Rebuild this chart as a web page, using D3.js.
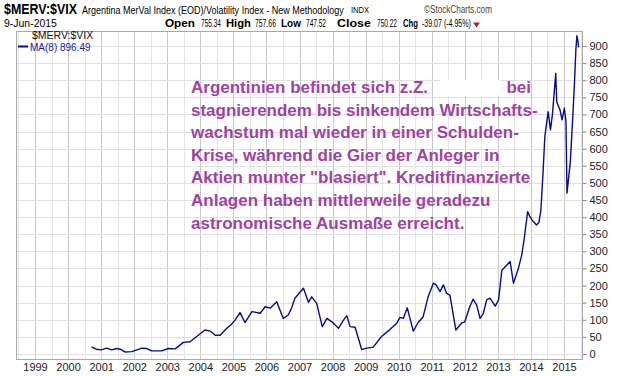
<!DOCTYPE html>
<html lang="de">
<head>
<meta charset="UTF-8" />
<title>$MERV:$VIX</title>
<script src="https://d3js.org/d3.v7.min.js"></script>
<style>
  html, body { margin: 0; padding: 0; background: #fff; overflow: hidden; }
  svg { display: block; }
  text { font-family: "Liberation Sans", Arial, sans-serif; }
</style>
</head>
<body>
<svg width="620" height="376"></svg>
<script>
// MA(8) of $MERV:$VIX (decimal year, value)
const maYears = [
  2000.71, 2000.85, 2001.0, 2001.17, 2001.32, 2001.47, 2001.6, 2001.72, 2001.93, 2002.1,
  2002.23, 2002.38, 2002.53, 2002.83, 2003.03, 2003.24, 2003.49, 2003.69, 2003.94, 2004.14,
  2004.3, 2004.45, 2004.6, 2004.8, 2004.92, 2005.05, 2005.2, 2005.35, 2005.56, 2005.81,
  2005.96, 2006.11, 2006.31, 2006.51, 2006.66, 2006.76, 2006.86, 2007.12, 2007.27, 2007.37,
  2007.52, 2007.69, 2007.83, 2007.98, 2008.18, 2008.33, 2008.43, 2008.53, 2008.68, 2008.88,
  2009.03, 2009.23, 2009.48, 2009.74, 2009.94, 2010.04, 2010.14, 2010.26, 2010.44, 2010.59,
  2010.74, 2010.89, 2011.05, 2011.13, 2011.25, 2011.35, 2011.45, 2011.55, 2011.73, 2011.9,
  2012.0, 2012.15, 2012.25, 2012.36, 2012.46, 2012.56, 2012.66, 2012.76, 2012.92, 2013.02,
  2013.12, 2013.27, 2013.37, 2013.47, 2013.62, 2013.72, 2013.79, 2013.9, 2013.97, 2014.07,
  2014.17, 2014.24, 2014.3, 2014.36, 2014.42, 2014.52, 2014.59, 2014.65, 2014.75, 2014.78,
  2014.88, 2014.94, 2015.01, 2015.06, 2015.09, 2015.19, 2015.27, 2015.32, 2015.36, 2015.39,
  2015.42, 2015.44
];
const maValues = [
  21, 14, 12, 17, 12, 16, 13, 6, 7, 13,
  17, 16, 9, 9, 16, 15, 34, 36, 55, 70,
  67, 55, 55, 75, 85, 99, 121, 92, 124, 119,
  138, 134, 153, 104, 114, 134, 163, 192, 151, 167,
  148, 80, 104, 94, 75, 99, 112, 80, 78, 13,
  17, 20, 51, 72, 90, 107, 104, 135, 67, 92,
  109, 167, 207, 202, 182, 202, 177, 172, 70, 90,
  94, 138, 160, 143, 104, 119, 158, 163, 140, 158,
  245, 260, 270, 207, 250, 289, 333, 416, 401, 387,
  377, 384, 420, 520, 635, 708, 655, 700, 820, 737,
  713, 684, 718, 680, 470, 560, 700, 800, 890, 930,
  915, 896
];
const yearTicks = d3.range(1999, 2016);
const yTicks = d3.range(0, 901, 50);
const noteLines = [
  "Argentinien befindet sich z.Z.",
  "stagnierendem bis sinkendem Wirtschafts-",
  "wachstum mal wieder in einer Schulden-",
  "Krise, während die Gier der Anleger in",
  "Aktien munter \"blasiert\". Kreditfinanzierte",
  "Anlagen haben mittlerweile geradezu",
  "astronomische Ausmaße erreicht."
];
// header quote: text, bold?
const quoteParts = [
  ["Open", true], ["755.34", false], ["High", true], ["757.66", false],
  ["Low", true], ["747.52", false], ["Close", true], ["750.22", false],
  ["Chg", true], ["-39.07 (-4.95%)", false]
];
const quoteX = [165, 201, 226, 255, 281, 306, 337, 377, 403, 422];
const quoteW = [30, 20, 25, 21, 20, 20, 34, 20, 15, 49];

const toDate = t => {
  const y = Math.floor(t);
  const a = new Date(y, 0, 1), b = new Date(y + 1, 0, 1);
  return new Date(+a + (t - y) * (b - a));
};
const data = maYears.map((t, i) => ({ date: toDate(t), value: maValues[i] }));

const svg = d3.select("svg");
const plot = { left: 16.5, right: 582.5, top: 31.5, bottom: 359.5 };

// squeeze a text horizontally into a given width (the StockCharts font is narrow)
function fitText(parent, str, x0, y0, w, size, bold, fill) {
  const g = parent.append("g");
  const t = g.append("text").attr("font-size", size)
    .attr("font-weight", bold ? "bold" : "normal")
    .attr("fill", fill || "#000").text(str);
  const len = t.node().getComputedTextLength();
  g.attr("transform", `translate(${x0},${y0}) scale(${w / len},1)`);
  return t;
}

const x = d3.scaleTime()
  .domain([new Date(1999, 0, 1), new Date(2015, 0, 1)])
  .range([35, 564]);
const y = d3.scaleLinear().domain([0, 900]).range([354, 46]);

// grid
const grid = svg.append("g");
const halfYears = d3.range(1998.5, 2016, 0.5).map(toDate)
  .filter(d => x(d) > plot.left && x(d) < plot.right);
grid.selectAll("line.v").data(halfYears).join("line")
  .attr("x1", d => Math.round(x(d)) + 0.5).attr("x2", d => Math.round(x(d)) + 0.5)
  .attr("y1", plot.top).attr("y2", plot.bottom)
  .attr("stroke", d => d.getMonth() === 0 ? "#c8c8c8" : "#e4e4e4");
grid.selectAll("line.h").data(yTicks).join("line")
  .attr("x1", plot.left).attr("x2", plot.right)
  .attr("y1", d => Math.round(y(d)) + 0.5).attr("y2", d => Math.round(y(d)) + 0.5)
  .attr("stroke", "#e0e0e0");

// frame
svg.append("rect")
  .attr("x", plot.left).attr("y", plot.top)
  .attr("width", plot.right - plot.left).attr("height", plot.bottom - plot.top)
  .attr("fill", "none").attr("stroke", "#a8a8a8");

// y axis on the right
const yAxis = svg.append("g").attr("transform", `translate(${plot.right},0)`)
  .call(d3.axisRight(y).tickValues(yTicks).tickSize(4).tickPadding(3));
yAxis.select(".domain").remove();
yAxis.selectAll("line").attr("stroke", "#888");
yAxis.selectAll("text").attr("font-size", 11).attr("fill", "#222")
  .attr("font-family", "Liberation Sans, Arial, sans-serif");

// x axis labels
const xAxis = svg.append("g").attr("transform", `translate(0,${plot.bottom})`)
  .call(d3.axisBottom(x).tickValues(yearTicks.map(t => new Date(t, 0, 1)))
    .tickFormat(d3.timeFormat("%Y")).tickSize(0).tickPadding(4));
xAxis.select(".domain").remove();
xAxis.selectAll("text").attr("font-size", 11).attr("fill", "#222")
  .attr("font-family", "Liberation Sans, Arial, sans-serif");

// annotation (one word in the first line is blanked out in white)
const note = svg.append("g")
  .attr("font-family", "Lato, 'Open Sans', sans-serif").attr("font-weight", "bold")
  .attr("font-size", 17).attr("fill", "#a042a2");
note.append("rect").attr("x", 440).attr("y", 80).attr("width", 60).attr("height", 16).attr("fill", "#fff");
note.selectAll("text.line").data(noteLines).join("text")
  .attr("class", "line")
  .attr("x", 191).attr("y", (d, i) => 93 + i * 22.6)
  .text(d => d);
note.append("text").attr("x", 531).attr("y", 93).attr("text-anchor", "end").text("bei");

// MA line
svg.append("path").datum(data)
  .attr("fill", "none").attr("stroke", "#0a0a8c").attr("stroke-width", 1.4)
  .attr("stroke-linejoin", "round")
  .attr("d", d3.line().x(d => x(d.date)).y(d => y(d.value)));

// legend inside plot
svg.append("text").attr("x", 32).attr("y", 38.5)
  .attr("font-family", "Liberation Mono, DejaVu Sans Mono, monospace").attr("font-size", 10.5)
  .attr("fill", "#111").text("$MERV:$VIX");
svg.append("line").attr("x1", 18).attr("x2", 28).attr("y1", 46.5).attr("y2", 46.5)
  .attr("stroke", "#0a0a8c").attr("stroke-width", 2);
svg.append("text").attr("x", 30).attr("y", 50.5).attr("font-size", 10)
  .attr("fill", "#1a1aa0").text("MA(8) 896.49");

// header
const head = svg.append("g");
fitText(head, "$MERV:$VIX", 4, 14, 73, 15, true);
fitText(head, "Argentina MerVal Index (EOD)/Volatility Index - New Methodology", 82, 14, 262, 11.5, false);
fitText(head, "INDX", 351, 13, 18, 8.5, false);
fitText(head, "©StockCharts.com", 424, 13, 68, 11.5, false, "#444");
fitText(head, "9-Jun-2015", 4, 27, 53, 11.5, false);
quoteParts.forEach(([s, b], i) => fitText(head, s, quoteX[i], 27, quoteW[i], 11.5, b));
head.append("path").attr("d", "M473,22.5L480,22.5L476.5,27.5Z").attr("fill", "#c0182a");
</script>
</body>
</html>
